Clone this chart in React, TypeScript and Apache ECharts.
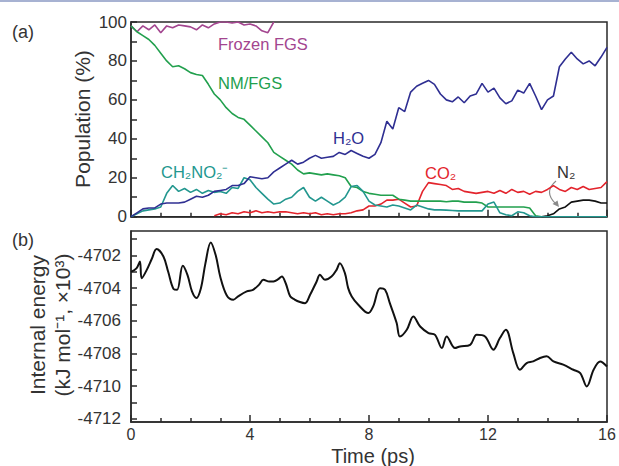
import React, { useEffect, useRef } from "react";
import * as echarts from "echarts";

// ---- data ----
const STEP = 0.2; // ps, sampling step of the population traces
const FROZEN_START = 0;
const FROZEN = [98, 95, 98, 96, 98.5, 94.5, 98, 97, 98.5, 98, 97.5, 96, 98.5, 97, 99, 100, 100, 99.5, 100, 98.5, 99, 98, 95.5, 94.5, 100];
const NMFGS_START = 0;
const NMFGS = [98, 95, 93, 91, 88, 84, 80, 77, 77.5, 76, 74, 73, 72.5, 68, 63, 60, 56, 53, 51, 50, 47, 44, 41, 38, 33, 31, 29, 27, 24, 22, 22.5, 22, 21.5, 22, 21.5, 21, 20, 15.5, 15, 13, 12, 11.5, 11, 11, 11, 9, 8.5, 8, 8, 8, 8, 8, 8, 7.7, 8, 8, 7.5, 7.5, 7.5, 7, 5, 5, 5, 5, 5, 5, 5, 4.5, 0.5, 0];
const H2O_START = 0;
const H2O = [0, 2, 4, 4.5, 4.5, 6.5, 7, 7, 7, 7.5, 9, 10.5, 10, 11, 13, 13.5, 14, 16, 16, 17, 20.5, 20, 19.5, 20, 23, 25, 27, 29, 27, 28, 30, 31.5, 30, 30.5, 31, 33, 32, 34, 32.5, 31, 30, 32, 38, 49, 45, 56, 54, 64, 67, 68.5, 70, 68, 63, 60, 59, 61.5, 58.5, 62, 63, 68.5, 64, 66, 61, 58, 59.5, 65, 63.5, 68.5, 62, 55, 60, 62, 77, 81, 84.5, 81, 78.5, 80, 77.5, 82, 87];
const CH2NO2_START = 0;
const CH2NO2 = [0, 1.5, 3, 3.5, 4, 5, 12, 16, 13, 14.5, 12.5, 14, 12, 13.5, 12.5, 13, 12, 15, 14.5, 20, 19, 15, 12, 9, 6.5, 7, 9, 10, 13, 15, 10, 8, 10, 8, 6, 7.5, 10, 15.5, 16, 13, 8, 6, 5.5, 5, 6, 5.5, 4.5, 3.5, 6, 5, 4, 3.5, 3.5, 3.4, 3.2, 3, 3, 3, 3, 3, 6.5, 7.5, 2, 1, 0.5, 2.5, 2, 0.5, 0, 0, 0, 0, 0, 0, 0, 0, 0, 0, 0, 0, 0];
const CO2_START = 2.8;
const CO2 = [0.5, 1.5, 1, 2, 1.5, 2.5, 2, 3, 2, 2.5, 2, 2.5, 2.5, 2, 1.5, 2, 1.5, 2, 1, 1.5, 1, 1.5, 1.5, 2, 3, 3.5, 5.5, 5.5, 6.5, 8.5, 8.5, 9, 7, 5, 5.5, 13, 17.5, 17, 16.5, 16, 14, 14.5, 13, 12.5, 12, 12.5, 13, 12, 13.5, 12, 14, 12.5, 13, 11.5, 13, 12.5, 14, 16, 14, 13, 15, 14, 15.5, 14, 14.5, 15, 18];
const N2_START = 13.8;
const N2 = [0, 0.5, 1.5, 4, 5, 7.5, 8, 8.5, 8.5, 8, 7, 7];

const ENERGY_TIME = [0, 0.19, 0.3, 0.36, 0.53, 0.7, 0.86, 1.09, 1.25, 1.43, 1.55, 1.74, 1.9, 2.05, 2.2, 2.35, 2.5, 2.68, 2.85, 3.0, 3.22, 3.44, 3.6, 3.89, 4.1, 4.3, 4.45, 4.65, 4.79, 4.95, 5.07, 5.2, 5.35, 5.5, 5.68, 5.85, 6.02, 6.24, 6.35, 6.52, 6.74, 6.91, 7.02, 7.19, 7.3, 7.42, 7.64, 7.98, 8.14, 8.37, 8.54, 8.7, 8.93, 9.04, 9.27, 9.49, 9.72, 10.0, 10.22, 10.45, 10.61, 10.89, 11.06, 11.4, 11.62, 11.9, 12.18, 12.4, 12.6, 12.85, 13.07, 13.3, 13.52, 13.75, 13.97, 14.2, 14.53, 14.87, 15.1, 15.32, 15.55, 15.77, 16.0];
const ENERGY = [-4703.0, -4702.77, -4702.37, -4703.39, -4702.88, -4702.2, -4701.61, -4702.06, -4703.0, -4704.05, -4704.1, -4702.63, -4703.2, -4704.2, -4704.6, -4704.0, -4702.5, -4701.2, -4702.0, -4703.3, -4704.45, -4704.71, -4704.5, -4704.2, -4704.1, -4703.8, -4703.49, -4703.6, -4703.59, -4703.45, -4703.29, -4703.7, -4704.5, -4704.7, -4704.85, -4704.92, -4704.41, -4703.59, -4703.18, -4703.49, -4703.29, -4702.88, -4702.47, -4703.08, -4704.0, -4704.51, -4705.02, -4705.53, -4705.12, -4704.0, -4704.1, -4704.92, -4706.14, -4706.96, -4706.55, -4705.74, -4706.35, -4706.75, -4706.86, -4707.67, -4706.96, -4707.67, -4707.57, -4707.47, -4706.86, -4706.96, -4707.77, -4707.06, -4706.55, -4707.98, -4709.0, -4708.59, -4708.49, -4708.28, -4708.18, -4708.49, -4708.69, -4709.0, -4709.2, -4710.02, -4709.0, -4708.49, -4708.8];

const TIME_TICKS = [0, 4, 8, 12, 16];
const POP_TICKS = [0, 20, 40, 60, 80, 100];
const ENERGY_LABELS = [-4712, -4710, -4708, -4706, -4704, -4702];
const ENERGY_TICKS = [-4712, -4711, -4710, -4709, -4708, -4707, -4706, -4705, -4704, -4703, -4702, -4701];

const FONT = "'Liberation Sans', Arial, Helvetica, sans-serif";
const C = {
  frozen: "#a3458f",
  nm: "#22a04e",
  h2o: "#2f2f92",
  ch2: "#23978f",
  co2: "#e3242c",
  n2: "#111111",
  axis: "#2a2a2a",
  text: "#333333",
};

const pairs = (start: number, vals: number[]) =>
  vals.map((v, i) => [Math.round((start + i * STEP) * 10) / 10, v]);

export default function App() {
  const ref = useRef<HTMLDivElement>(null);
  useEffect(() => {
    if (!ref.current) return;
    const chart = echarts.init(ref.current, undefined, { renderer: "svg" });
    const lineStyle = { color: C.axis, width: 1.5 };
    const popLine = (name: string, data: number[][], color: string) => ({
      name,
      type: "line",
      xAxisIndex: 0,
      yAxisIndex: 0,
      data,
      showSymbol: false,
      symbol: "none",
      lineStyle: { color, width: 1.6 },
      itemStyle: { color },
    });
    const txt = (x: number, y: number, text: string, fill: string, size = 17) => ({
      type: "text",
      x,
      y,
      style: { text, fill, fontSize: size, fontFamily: FONT, align: "left", verticalAlign: "middle" },
    });
    const plain = (v: number) => String(v);
    const option: any = {
      animation: false,
      backgroundColor: "#ffffff",
      grid: [
        { left: 131, top: 22, width: 476, height: 194.7, show: true, borderColor: C.axis, borderWidth: 1.5, backgroundColor: "transparent" },
        { left: 131, top: 231, width: 476, height: 191, show: true, borderColor: C.axis, borderWidth: 1.5, backgroundColor: "transparent" },
      ],
      xAxis: [
        {
          gridIndex: 0, type: "value", min: 0, max: 16, interval: 4,
          axisLine: { show: true, lineStyle },
          axisTick: { show: true, inside: true, length: 7, lineStyle },
          minorTick: { show: true, splitNumber: 4, length: 4, lineStyle },
          axisLabel: { show: false },
          splitLine: { show: false },
        },
        {
          gridIndex: 1, type: "value", min: 0, max: 16, interval: 4,
          axisLine: { show: true, lineStyle },
          axisTick: { show: true, inside: true, length: 7, lineStyle },
          minorTick: { show: true, splitNumber: 4, length: 4, lineStyle },
          axisLabel: { show: true, fontSize: 16, lineHeight: 16, color: C.text, fontFamily: FONT, margin: 4, customValues: TIME_TICKS, formatter: plain },
          splitLine: { show: false },
        },
      ],
      yAxis: [
        {
          gridIndex: 0, type: "value", min: 0, max: 100, interval: 20,
          axisLine: { show: true, lineStyle },
          axisTick: { show: true, inside: true, length: 6, lineStyle },
          minorTick: { show: true, splitNumber: 2, length: 6, lineStyle },
          axisLabel: { show: true, fontSize: 17, color: C.text, fontFamily: FONT, margin: 4, customValues: POP_TICKS, formatter: plain },
          splitLine: { show: false },
        },
        {
          gridIndex: 1, type: "value", min: -4712.2, max: -4700.5,
          axisLine: { show: true, lineStyle },
          axisTick: { show: true, inside: true, length: 6, lineStyle, customValues: ENERGY_TICKS },
          axisLabel: { show: true, fontSize: 17, color: C.text, fontFamily: FONT, margin: 10, customValues: ENERGY_LABELS, formatter: plain },
          splitLine: { show: false },
        },
      ],
      series: [
        popLine("Frozen FGS", pairs(FROZEN_START, FROZEN), C.frozen),
        popLine("CO2", pairs(CO2_START, CO2), C.co2),
        popLine("N2", pairs(N2_START, N2), C.n2),
        popLine("NM/FGS", pairs(NMFGS_START, NMFGS), C.nm),
        popLine("CH2NO2-", pairs(CH2NO2_START, CH2NO2), C.ch2),
        popLine("H2O", pairs(H2O_START, H2O), C.h2o),
        {
          name: "Internal energy",
          type: "line",
          xAxisIndex: 1,
          yAxisIndex: 1,
          data: ENERGY_TIME.map((t, i) => [t, ENERGY[i]]),
          showSymbol: false,
          symbol: "none",
          smooth: 0.35,
          lineStyle: { color: "#111", width: 2 },
        },
      ],
      graphic: [
        { type: "rect", shape: { x: 0, y: 0, width: 619, height: 2 }, style: { fill: "#a7b2d2" } },
        txt(12, 32, "(a)", C.text, 18),
        txt(12, 240, "(b)", C.text, 18),
        txt(218, 44, "Frozen FGS", C.frozen, 16.5),
        txt(218, 83, "NM/FGS", C.nm, 16.5),
        txt(333, 138, "H₂O", C.h2o, 16.5),
        txt(161, 172, "CH₂NO₂⁻", C.ch2, 16.5),
        txt(425, 173, "CO₂", C.co2, 16.5),
        txt(557, 172, "N₂", C.text, 16.5),
        {
          type: "bezierCurve",
          shape: { x1: 556, y1: 181, cpx1: 543, cpy1: 192, x2: 556, y2: 204 },
          style: { stroke: "#8a8a8a", lineWidth: 1.2, fill: "none" },
        },
        {
          type: "polygon",
          shape: { points: [[559, 207], [552.5, 204], [557.5, 200.5]] },
          style: { fill: "#8a8a8a" },
        },
        {
          type: "text", x: 82, y: 119, rotation: Math.PI / 2,
          style: { text: "Population (%)", fill: C.text, fontSize: 21, fontFamily: FONT, align: "center", verticalAlign: "middle" },
        },
        {
          type: "text", x: 37, y: 325, rotation: Math.PI / 2,
          style: { text: "Internal energy", fill: C.text, fontSize: 21, fontFamily: FONT, align: "center", verticalAlign: "middle" },
        },
        {
          type: "text", x: 62, y: 325, rotation: Math.PI / 2,
          style: { text: "(kJ mol⁻¹, ×10³)", fill: C.text, fontSize: 21, fontFamily: FONT, align: "center", verticalAlign: "middle" },
        },
        {
          type: "text", x: 373, y: 456,
          style: { text: "Time (ps)", fill: C.text, fontSize: 20, lineHeight: 20, fontFamily: FONT, align: "center", verticalAlign: "middle" },
        },
      ],
    };
    chart.setOption(option);
    return () => chart.dispose();
  }, []);
  return <div ref={ref} style={{ position: "absolute", left: 0, top: 0, width: 619, height: 466 }} />;
}
